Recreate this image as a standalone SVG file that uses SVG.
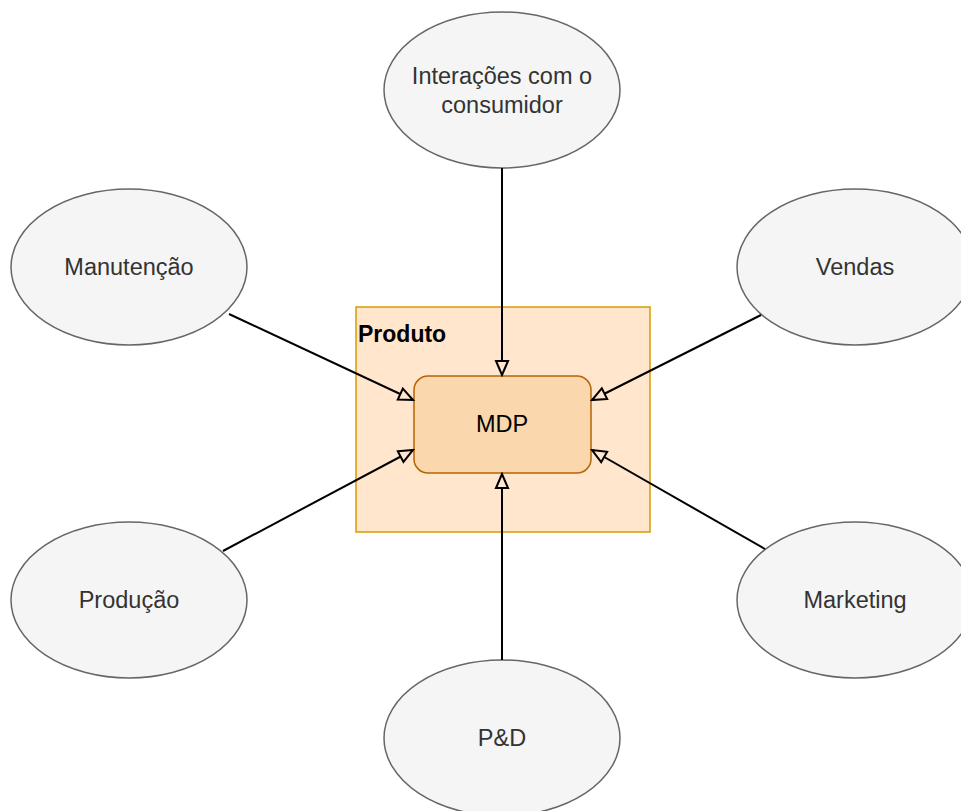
<svg xmlns="http://www.w3.org/2000/svg" width="961" height="811" viewBox="0 0 961 811">
<style>
.ell{fill:#f5f5f5;stroke:#666666;stroke-width:1.5}
.lbl{font-family:"Liberation Sans",Arial,sans-serif;font-size:23.5px;fill:#333333;text-anchor:middle;dominant-baseline:central}
.edge{stroke:#000000;stroke-width:2;fill:none}
</style>
<defs>
<marker id="arr" markerUnits="userSpaceOnUse" markerWidth="18" markerHeight="16" viewBox="0 0 18 16" refX="16" refY="8" orient="auto">
<path d="M2,2 L16,8 L2,14 Z" fill="#ffe6cc" stroke="#000" stroke-width="2" stroke-linejoin="miter"/>
</marker>
</defs>
<rect width="961" height="811" fill="#ffffff"/>
<g id="produto">
<rect x="356" y="307" width="294" height="225" fill="#ffe6cc" stroke="#d79b00" stroke-width="1.5"/>
<text x="358" y="342" font-family="'Liberation Sans',Arial,sans-serif" font-size="23" font-weight="bold" fill="#000">Produto</text>
</g>
<g id="mdp">
<rect x="414" y="376" width="177" height="97" rx="14" fill="#fad7ac" stroke="#b46504" stroke-width="1.5"/>
<text x="502" y="424" class="lbl" style="fill:#000">MDP</text>
</g>
<g id="interacoes">
<ellipse cx="502" cy="90" rx="118" ry="78" class="ell"/>
<text class="lbl" x="502"><tspan x="502" y="76">Interações com o</tspan><tspan x="502" y="105">consumidor</tspan></text>
</g>
<g id="manutencao">
<ellipse cx="129" cy="267" rx="118" ry="78" class="ell"/>
<text class="lbl" x="129" y="267">Manutenção</text>
</g>
<g id="vendas">
<ellipse cx="855" cy="267" rx="118" ry="78" class="ell"/>
<text class="lbl" x="855" y="267">Vendas</text>
</g>
<g id="producao">
<ellipse cx="129" cy="600" rx="118" ry="78" class="ell"/>
<text class="lbl" x="129" y="600">Produção</text>
</g>
<g id="marketing">
<ellipse cx="855" cy="600" rx="118" ry="78" class="ell"/>
<text class="lbl" x="855" y="600">Marketing</text>
</g>
<g id="pd">
<ellipse cx="502" cy="738" rx="118" ry="78" class="ell"/>
<text class="lbl" x="502" y="738">P&amp;D</text>
</g>
<g id="connectors">
<line class="edge" x1="502" y1="168" x2="502" y2="375" marker-end="url(#arr)"/>
<line class="edge" x1="229" y1="314" x2="413" y2="400" marker-end="url(#arr)"/>
<line class="edge" x1="761" y1="315" x2="592" y2="400" marker-end="url(#arr)"/>
<line class="edge" x1="223" y1="551" x2="413" y2="450" marker-end="url(#arr)"/>
<line class="edge" x1="765" y1="549" x2="592" y2="450" marker-end="url(#arr)"/>
<line class="edge" x1="502" y1="660" x2="502" y2="474" marker-end="url(#arr)"/>
</g>
</svg>
